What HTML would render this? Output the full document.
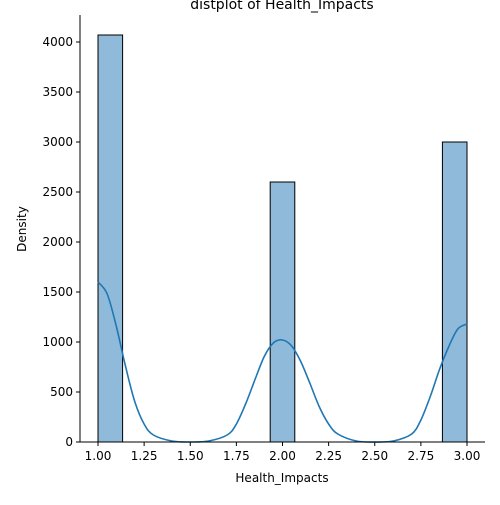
<!DOCTYPE html>
<html><head><meta charset="utf-8"><style>
body{margin:0;background:#fff;}
svg text{font-family:"DejaVu Sans","Liberation Sans",sans-serif;fill:#000;}
</style></head><body>
<svg id="chart" width="500" height="500" xmlns="http://www.w3.org/2000/svg">
<rect width="500" height="500" fill="#fff"/>
<g id="bars"></g><g id="kde"></g><g id="axes"></g>
</svg>
<script>
const binStarts = [1.0, 1.9333, 2.8667];
const binWidth = 2/15;
const binCounts = [4070, 2600, 3000];
const kdeX = [1.0,1.05,1.1,1.15,1.2,1.25,1.3,1.4,1.5,1.6,1.7,1.75,1.8,1.85,1.9,1.95,2.0,2.05,2.1,2.15,2.2,2.25,2.3,2.4,2.5,2.6,2.7,2.75,2.8,2.85,2.9,2.95,3.0];
const kdeY = [1600,1480,1150,750,400,180,70,10,0,10,70,180,380,620,850,990,1020,960,800,580,350,180,80,10,0,10,80,220,450,720,950,1130,1180];
const xTicks = [1.0,1.25,1.5,1.75,2.0,2.25,2.5,2.75,3.0];
const xTickLabels = ["1.00","1.25","1.50","1.75","2.00","2.25","2.50","2.75","3.00"];
const yTicks = [0,500,1000,1500,2000,2500,3000,3500,4000];

const NS="http://www.w3.org/2000/svg";
const L=80,R=485,T=15,B=442;
const xs=v=>98+(v-1)*184.5;
const ys=v=>B-v*0.1;
function mk(tag,attrs,parent){const e=document.createElementNS(NS,tag);for(const k in attrs)e.setAttribute(k,attrs[k]);parent.appendChild(e);return e;}
const bars=document.getElementById('bars'),kde=document.getElementById('kde'),axes=document.getElementById('axes');
binStarts.forEach((s,i)=>{
  const r=mk('rect',{x:xs(s),y:ys(binCounts[i]),width:xs(s+binWidth)-xs(s),height:B-ys(binCounts[i]),fill:'#8fbad9',stroke:'#000','stroke-width':1},bars);
  
  
});
const pts=kdeX.map((x,i)=>[xs(x),ys(kdeY[i])]);
let d='M'+pts[0][0]+','+pts[0][1];
for(let i=0;i<pts.length-1;i++){
  const p0=pts[Math.max(0,i-1)],p1=pts[i],p2=pts[i+1],p3=pts[Math.min(pts.length-1,i+2)];
  const c1x=p1[0]+(p2[0]-p0[0])/6,c1y=p1[1]+(p2[1]-p0[1])/6;
  const c2x=p2[0]-(p3[0]-p1[0])/6,c2y=p2[1]-(p3[1]-p1[1])/6;
  d+=`C${c1x.toFixed(1)},${c1y.toFixed(1)} ${c2x.toFixed(1)},${c2y.toFixed(1)} ${p2[0].toFixed(1)},${p2[1].toFixed(1)}`;
}
const p=mk('path',{d:d,fill:'none',stroke:'#1f77b4','stroke-width':1.6,'stroke-linejoin':'round'},kde);


const yl=mk('line',{x1:L,y1:T,x2:L,y2:B,stroke:'#000','stroke-width':1},axes);


const xl=mk('line',{x1:L,y1:B,x2:R,y2:B,stroke:'#000','stroke-width':1},axes);


xTicks.forEach((v,i)=>{
  mk('line',{x1:xs(v),y1:B,x2:xs(v),y2:B+4,stroke:'#000'},axes);
  const t=mk('text',{x:xs(v),y:B+18,'text-anchor':'middle','font-size':12},axes);
  t.textContent=xTickLabels[i];
  
  
});
yTicks.forEach(v=>{
  mk('line',{x1:L-4,y1:ys(v),x2:L,y2:ys(v),stroke:'#000'},axes);
  const t=mk('text',{x:L-7,y:ys(v)+4,'text-anchor':'end','font-size':12},axes);
  t.textContent=v;
  
  
});
const xt=mk('text',{x:282,y:482,'text-anchor':'middle','font-size':12},axes);xt.textContent='Health_Impacts';


const yt=mk('text',{x:0,y:0,'text-anchor':'middle','font-size':12,transform:'translate(26,229) rotate(-90)'},axes);yt.textContent='Density';


const tt=mk('text',{x:282,y:9,'text-anchor':'middle','font-size':14},axes);tt.textContent='distplot of Health_Impacts';


</script>
</body></html>
